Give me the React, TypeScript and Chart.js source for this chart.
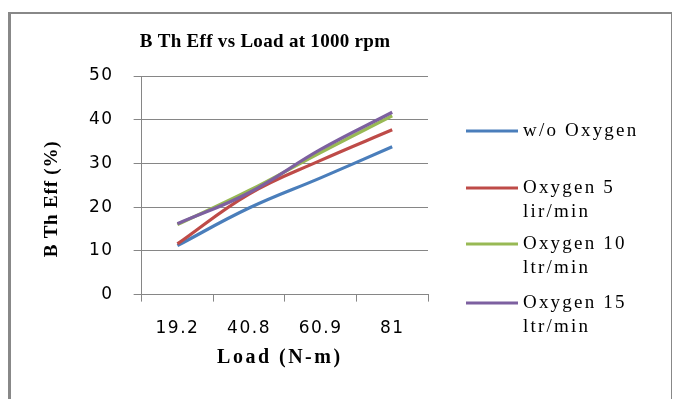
import React, { useEffect, useRef } from "react";
import { Chart, registerables } from "chart.js";

Chart.register(...registerables);

const categories = ["19.2", "40.8", "60.9", "81"];
const seriesNames = [["w/o Oxygen"], ["Oxygen 5", "lir/min"], ["Oxygen 10", "ltr/min"], ["Oxygen 15", "ltr/min"]];
const woOxygen = [11.2, 19.8, 26.7, 33.8];
const oxygen5 = [11.6, 23.0, 30.7, 37.7];
const oxygen10 = [16.0, 23.8, 32.5, 40.9];
const oxygen15 = [16.2, 23.3, 33.2, 41.7];
const colors = ["#4A7EBB", "#BE4B48", "#98B954", "#7D60A0"];
const yTicks = [0, 10, 20, 30, 40, 50];
const titleText = "B Th Eff vs Load at 1000 rpm";
const xTitle = "Load (N-m)";
const yTitle = "B Th Eff (%)";

const spacingPlugin = {
  id: "tickSpacing",
  beforeLayout(chart: any) {
    chart.ctx.letterSpacing = "1.5px";
  },
  beforeDraw(chart: any) {
    chart.ctx.letterSpacing = "1.5px";
  },
};

const textPlugin = {
  id: "customText",
  afterDraw(chart: any) {
    const ctx = chart.ctx;
    const area = chart.chartArea;
    ctx.save();
    ctx.fillStyle = "#000";
    ctx.textBaseline = "middle";

    // title
    ctx.letterSpacing = "0.3px";
    ctx.font = "bold 19px 'Liberation Serif'";
    ctx.textAlign = "center";
    ctx.fillText(titleText, 265, 42);

    // x axis title
    ctx.letterSpacing = "2.5px";
    ctx.font = "bold 20px 'Liberation Serif'";
    ctx.fillText(xTitle, (area.left + area.right) / 2 - 5, 358);

    // y axis title
    ctx.save();
    ctx.translate(52, 199);
    ctx.rotate(-Math.PI / 2);
    ctx.font = "bold 19px 'Liberation Serif'";
    ctx.letterSpacing = "0.8px";
    ctx.fillText(yTitle, 0, 0);
    ctx.restore();

    // legend
    const rowsY = [131, 188, 244, 303];
    chart.data.datasets.forEach((ds: any, i: number) => {
      const y = rowsY[i];
      ctx.strokeStyle = ds.borderColor;
      ctx.lineWidth = 3;
      ctx.beginPath();
      ctx.moveTo(466, y);
      ctx.lineTo(518, y);
      ctx.stroke();
      ctx.letterSpacing = "2.2px";
      ctx.font = "19px 'Liberation Serif'";
      ctx.textAlign = "left";
      seriesNames[i].forEach((t, j) => ctx.fillText(t, 523, y + j * 24));
    });
    ctx.restore();
  },
};

export default function App() {
  const ref = useRef<HTMLCanvasElement>(null);
  useEffect(() => {
    const chart = new Chart(ref.current!, {
      type: "line",
      data: {
        labels: categories,
        datasets: [woOxygen, oxygen5, oxygen10, oxygen15].map((d, i) => ({
          label: seriesNames[i].join(" "),
          data: d,
          borderColor: colors[i],
          backgroundColor: colors[i],
          borderWidth: 3.2,
          pointRadius: 0,
          tension: 0.4,
          order: 3 - i,
        })),
      },
      options: {
        animation: false,
        responsive: false,
        layout: { padding: { left: 69, right: 245, top: 76, bottom: 43 } },
        plugins: {
          legend: { display: false },
          tooltip: { enabled: false },
          title: { display: false },
        },
        scales: {
          x: {
            offset: true,
            grid: { display: true, drawOnChartArea: false, drawTicks: true, tickLength: 7, color: "#868686", offset: true },
            border: { display: true, color: "#868686" },
            ticks: { color: "#000", font: { family: "'DejaVu Sans'", size: 17 }, padding: 17, maxRotation: 0 },
          },
          y: {
            min: 0,
            max: 50,
            afterBuildTicks: (s: any) => {
              s.ticks = yTicks.map((v) => ({ value: v }));
            },
            grid: { color: "#868686", tickLength: 8 },
            border: { display: true, color: "#868686" },
            ticks: { color: "#000", font: { family: "'DejaVu Sans'", size: 17 }, padding: 20 },
          },
        },
      },
      plugins: [spacingPlugin, textPlugin],
    });
    return () => chart.destroy();
  }, []);
  return (
    <div style={{ position: "absolute", left: 0, top: 0, width: 673, height: 399, background: "#fff", overflow: "hidden" }}>
      <canvas ref={ref} width={673} height={399} style={{ position: "absolute", left: 0, top: 0 }} />
      <div
        style={{
          position: "absolute",
          left: 8,
          top: 12,
          width: 660,
          height: 400,
          borderLeft: "3px solid #888",
          borderTop: "2px solid #888",
          borderRight: "1px solid #888",
          pointerEvents: "none",
        }}
      />
    </div>
  );
}
